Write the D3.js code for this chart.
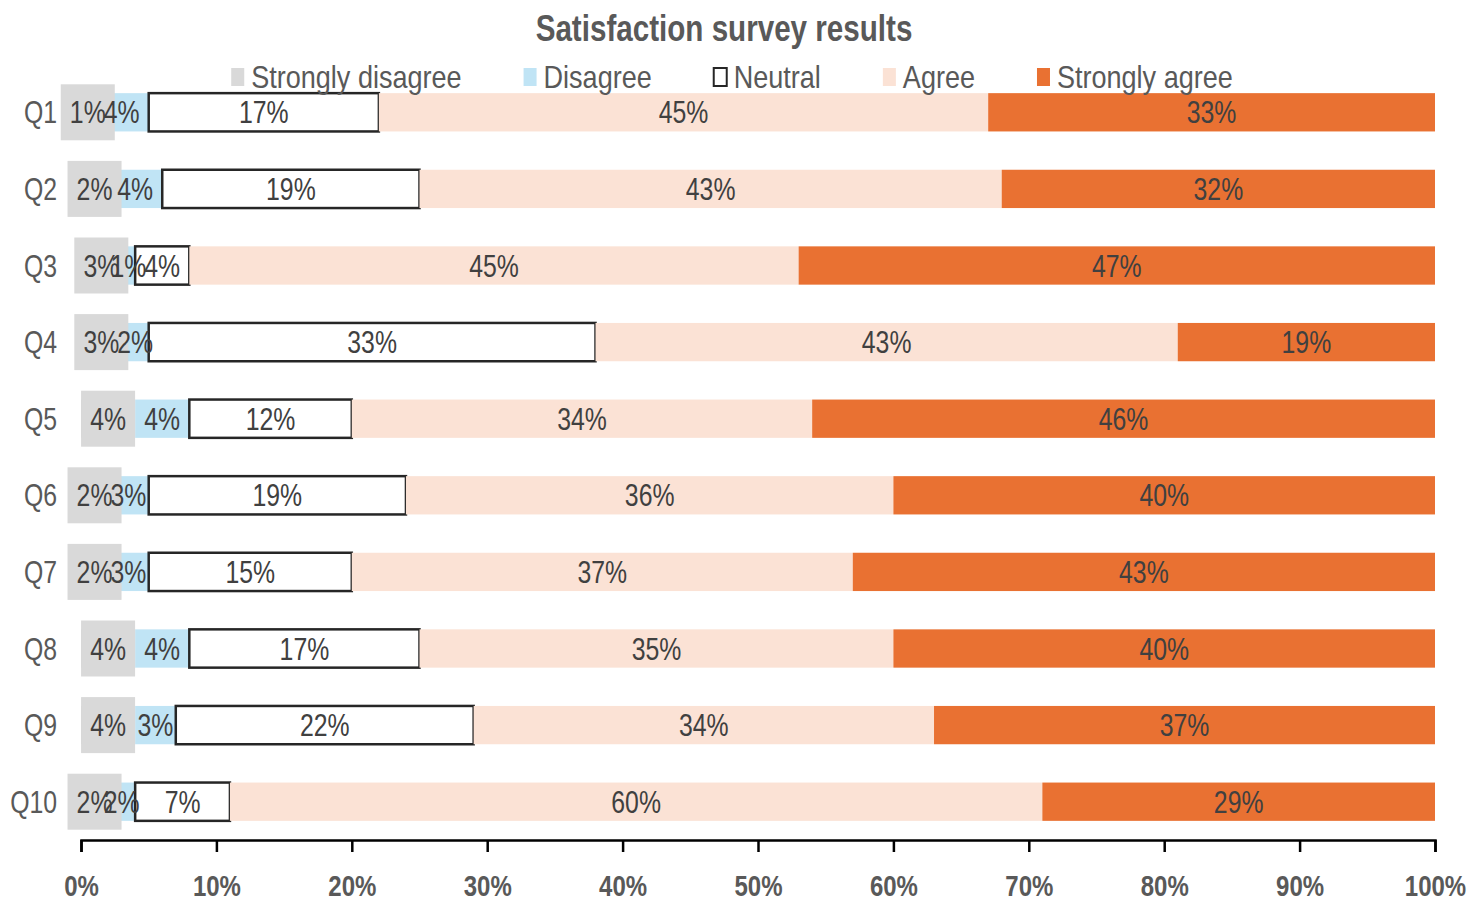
<!DOCTYPE html>
<html>
<head>
<meta charset="utf-8">
<script src="https://cdn.jsdelivr.net/npm/d3@7"></script>
<style>
  body { margin: 0; background: #fff; }
  svg { display: block; font-family: "Liberation Sans Narrow", "Arial Narrow", "Liberation Sans", sans-serif; }
</style>
</head>
<body>
<svg id="chart" width="1479" height="898"></svg>
<script>
// Likert stacked bars - satisfaction survey

const questions = ["Q1", "Q2", "Q3", "Q4", "Q5", "Q6", "Q7", "Q8", "Q9", "Q10"];
const levels = ["Strongly disagree", "Disagree", "Neutral", "Agree", "Strongly agree"];

// percent per question, one array per level
const stronglyDisagree = [1, 2, 3, 3, 4, 2, 2, 4, 4, 2];
const disagree         = [4, 4, 1, 2, 4, 3, 3, 4, 3, 2];
const neutral          = [17, 19, 4, 33, 12, 19, 15, 17, 22, 7];
const agree            = [45, 43, 45, 43, 34, 36, 37, 35, 34, 60];
const stronglyAgree    = [33, 32, 47, 19, 46, 40, 43, 40, 37, 29];

const xTicks = [0, 10, 20, 30, 40, 50, 60, 70, 80, 90, 100];

const colors = {
  "Strongly disagree": "#d9d9d9",
  "Disagree": "#c0e4f5",
  "Neutral": "#ffffff",
  "Agree": "#fbe2d5",
  "Strongly agree": "#e97132"
};

const seriesValues = [stronglyDisagree, disagree, neutral, agree, stronglyAgree];
const rows = questions.map((q, i) => {
  const r = { q };
  levels.forEach((l, j) => r[l] = seriesValues[j][i]);
  return r;
});

// the reference uses a condensed face; squeeze the text horizontally
const SQ = 0.8;
const place = (x, y, s = SQ) => `translate(${x},${y}) scale(${s},1)`;

const svg = d3.select("#chart");

const x = d3.scaleLinear().domain([0, 100]).range([81, 1435]);
const y = d3.scaleBand().domain(questions).range([74, 840]).paddingInner(0.5).paddingOuter(0.25);

const stack = d3.stack().keys(levels)(rows);

// Title
svg.append("text")
  .attr("transform", place(724, 41))
  .attr("text-anchor", "middle")
  .attr("font-size", 37).attr("font-weight", "bold")
  .attr("fill", "#595959")
  .text("Satisfaction survey results");

// Bars
const layers = svg.append("g").selectAll("g")
  .data(stack)
  .enter().append("g")
  .attr("fill", d => colors[d.key]);

layers.selectAll("rect")
  .data(d => d.map(v => Object.assign(v, { key: d.key })))
  .enter().append("rect")
  .attr("x", d => x(d[0]))
  .attr("y", d => y(d.data.q))
  .attr("width", d => x(d[1]) - x(d[0]))
  .attr("height", y.bandwidth())
  .attr("stroke", d => d.key === "Neutral" ? "#262626" : "none")
  .attr("stroke-width", d => d.key === "Neutral" ? 2.5 : 0);

// Gray label boxes for strongly disagree
const boxW = 54, boxH = 56;
svg.append("g").selectAll("rect")
  .data(stack[0])
  .enter().append("rect")
  .attr("x", d => x((d[0] + d[1]) / 2) - boxW / 2)
  .attr("y", d => y(d.data.q) + y.bandwidth() / 2 - boxH / 2)
  .attr("width", boxW)
  .attr("height", boxH)
  .attr("fill", "#d9d9d9");

// Data labels
stack.forEach(layer => {
  svg.append("g").selectAll("text")
    .data(layer)
    .enter().append("text")
    .attr("transform", d => place(x((d[0] + d[1]) / 2), y(d.data.q) + y.bandwidth() / 2))
    .attr("dy", "0.36em")
    .attr("text-anchor", "middle")
    .attr("font-size", 31)
    .attr("fill", "#404040")
    .text(d => (d[1] - d[0]) + "%");
});

// Category labels
svg.append("g").selectAll("text")
  .data(questions)
  .enter().append("text")
  .attr("transform", d => place(57, y(d) + y.bandwidth() / 2))
  .attr("dy", "0.36em")
  .attr("text-anchor", "end")
  .attr("font-size", 31)
  .attr("fill", "#595959")
  .text(d => d);

// X axis
const xAxis = d3.axisBottom(x)
  .tickValues(xTicks)
  .tickFormat(d => d + "%")
  .tickSize(12)
  .tickSizeOuter(12);

const axisG = svg.append("g")
  .attr("transform", "translate(0,840)")
  .call(xAxis);
axisG.select(".domain").attr("stroke", "#000").attr("stroke-width", 2.5);
axisG.selectAll(".tick line").attr("stroke", "#000").attr("stroke-width", 2.5);
axisG.selectAll(".tick text")
  .attr("transform", place(0, 45))
  .attr("y", 0)
  .attr("dy", "0.36em")
  .attr("font-family", "Liberation Sans Narrow, Arial Narrow, Liberation Sans, sans-serif")
  .attr("font-size", 30)
  .attr("font-weight", "bold")
  .attr("fill", "#595959");

// Legend
const LSQ = 0.845;
const legend = svg.append("g");
let lx = 0;
levels.forEach(l => {
  const item = legend.append("g").attr("transform", `translate(${lx},0)`);
  item.append("rect")
    .attr("x", 0).attr("y", 68).attr("width", 13).attr("height", 18)
    .attr("fill", colors[l])
    .attr("stroke", l === "Neutral" ? "#262626" : "none")
    .attr("stroke-width", 2);
  const t = item.append("text")
    .attr("transform", place(20, 88, LSQ))
    .attr("font-size", 32)
    .attr("fill", "#595959")
    .text(l);
  lx += 20 + t.node().getComputedTextLength() * LSQ + 62;
});
const legendW = lx - 62;
legend.attr("transform", `translate(${732 - legendW / 2},0)`);
</script>
</body>
</html>
